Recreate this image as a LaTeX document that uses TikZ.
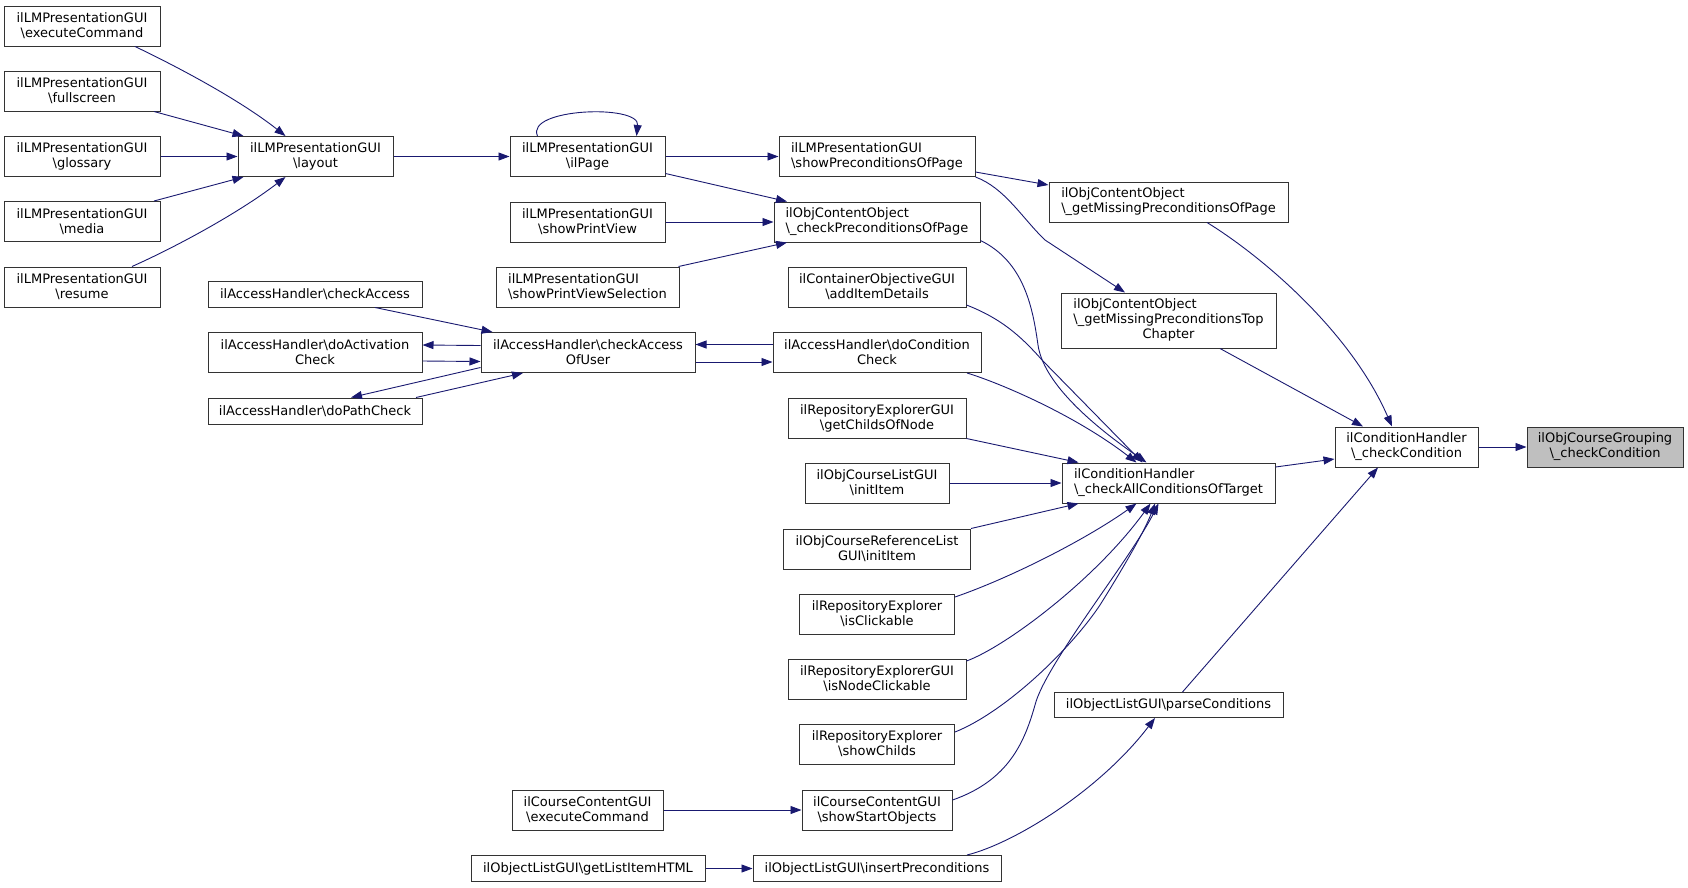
\documentclass[tikz,border=0pt]{standalone}
\usepackage{fontspec}
\setmainfont{DejaVu Sans}
\usetikzlibrary{arrows.meta}
\definecolor{edgeblue}{HTML}{191970}
\definecolor{nodegray}{HTML}{BFBFBF}
\newcommand\bsl{\textbackslash}
\begin{document}
\begin{tikzpicture}[x=1pt,y=-1pt,
  box/.style={draw=black!80, line width=1pt, inner sep=0pt, font=\fontsize{13}{15}\selectfont, align=center, text=black, fill=white},
  lbox/.style={box, align=left},
  e/.style={draw=edgeblue, line width=0.9pt, -{Triangle[length=11pt,width=8pt]}, color=edgeblue}]
\useasboundingbox (0,0) rectangle (1688,887);

% column 1
\node[box, minimum width=156pt, minimum height=40pt] (lmExec) at (82,26) {ilLMPresentationGUI\\\bsl executeCommand};
\node[box, minimum width=156pt, minimum height=40pt] (lmFull) at (82,91) {ilLMPresentationGUI\\\bsl fullscreen};
\node[box, minimum width=156pt, minimum height=40pt] (lmGloss) at (82,156.5) {ilLMPresentationGUI\\\bsl glossary};
\node[box, minimum width=156pt, minimum height=40pt] (lmMedia) at (82,221.5) {ilLMPresentationGUI\\\bsl media};
\node[box, minimum width=156pt, minimum height=40pt] (lmResume) at (82,287) {ilLMPresentationGUI\\\bsl resume};

% column 2
\node[box, minimum width=155pt, minimum height=40pt] (layout) at (315.5,156.5) {ilLMPresentationGUI\\\bsl layout};
\node[box, minimum width=214pt, minimum height=26pt] (checkAccess) at (315,294) {ilAccessHandler\bsl checkAccess};
\node[box, minimum width=214pt, minimum height=40pt] (doActivation) at (315,352) {ilAccessHandler\bsl doActivation\\Check};
\node[box, minimum width=214pt, minimum height=26pt] (doPath) at (315,411) {ilAccessHandler\bsl doPathCheck};

% column 3
\node[box, minimum width=155pt, minimum height=40pt] (ilPage) at (587.5,156.5) {ilLMPresentationGUI\\\bsl ilPage};
\node[box, minimum width=155pt, minimum height=40pt] (showPrintView) at (587.5,222) {ilLMPresentationGUI\\\bsl showPrintView};
\node[lbox, minimum width=183pt, minimum height=40pt] (showPrintViewSel) at (587.5,287) {ilLMPresentationGUI\\\bsl showPrintViewSelection};
\node[box, minimum width=214pt, minimum height=40pt] (checkAccessOfUser) at (588,352.5) {ilAccessHandler\bsl checkAccess\\OfUser};
\node[box, minimum width=151pt, minimum height=40pt] (ccExec) at (587.5,810) {ilCourseContentGUI\\\bsl executeCommand};
\node[box, minimum width=234pt, minimum height=26pt] (getListItem) at (588,868.5) {ilObjectListGUI\bsl getListItemHTML};

% column 4
\node[lbox, minimum width=196pt, minimum height=40pt] (showPrecOfPage) at (877,156.5) {ilLMPresentationGUI\\\bsl showPreconditionsOfPage};
\node[lbox, minimum width=206pt, minimum height=40pt] (checkPrecOfPage) at (877,222) {ilObjContentObject\\\bsl\_checkPreconditionsOfPage};
\node[box, minimum width=178pt, minimum height=40pt] (addItemDetails) at (877,287) {ilContainerObjectiveGUI\\\bsl addItemDetails};
\node[box, minimum width=208pt, minimum height=40pt] (doCondition) at (877,352.5) {ilAccessHandler\bsl doCondition\\Check};
\node[box, minimum width=178pt, minimum height=40pt] (getChilds) at (877,418) {ilRepositoryExplorerGUI\\\bsl getChildsOfNode};
\node[box, minimum width=144pt, minimum height=40pt] (courseListInit) at (877,483) {ilObjCourseListGUI\\\bsl initItem};
\node[box, minimum width=187pt, minimum height=40pt] (courseRefInit) at (877,549) {ilObjCourseReferenceList\\GUI\bsl initItem};
\node[box, minimum width=155pt, minimum height=40pt] (isClickable) at (877,614) {ilRepositoryExplorer\\\bsl isClickable};
\node[box, minimum width=178pt, minimum height=40pt] (isNodeClickable) at (877,679) {ilRepositoryExplorerGUI\\\bsl isNodeClickable};
\node[box, minimum width=155pt, minimum height=40pt] (showChilds) at (877,744) {ilRepositoryExplorer\\\bsl showChilds};
\node[box, minimum width=150pt, minimum height=40pt] (showStart) at (877,810) {ilCourseContentGUI\\\bsl showStartObjects};
\node[box, minimum width=248pt, minimum height=26pt] (insertPrec) at (877,868.5) {ilObjectListGUI\bsl insertPreconditions};

% column 5
\node[lbox, minimum width=239pt, minimum height=40pt] (getMissingPage) at (1168.5,202) {ilObjContentObject\\\bsl\_getMissingPreconditionsOfPage};
\node[box, minimum width=215pt, minimum height=55pt] (topChapter) at (1168.5,320.5) {\begin{tabular}{@{}l@{}}ilObjContentObject\\\bsl\_getMissingPreconditionsTop\\\multicolumn{1}{@{}c@{}}{Chapter}\end{tabular}};
\node[lbox, minimum width=213pt, minimum height=40pt] (checkAll) at (1168.5,483) {ilConditionHandler\\\bsl\_checkAllConditionsOfTarget};
\node[box, minimum width=229pt, minimum height=25pt] (parseCond) at (1168.5,705) {ilObjectListGUI\bsl parseConditions};

% column 6, 7
\node[box, minimum width=143pt, minimum height=40pt] (checkCondition) at (1406.5,447) {ilConditionHandler\\\bsl\_checkCondition};
\node[box, fill=nodegray, minimum width=156pt, minimum height=40pt] (grouping) at (1605,447) {ilObjCourseGrouping\\\bsl\_checkCondition};

% edges into layout
\draw[e] ([xshift=53pt]lmExec.south) .. controls (178,67) and (240,100) .. ([xshift=-30pt]layout.north);
\draw[e] ([xshift=72pt]lmFull.south) -- ([xshift=-72pt]layout.north);
\draw[e] (lmGloss.east) -- (layout.west);
\draw[e] ([xshift=72pt]lmMedia.north) -- ([xshift=-72pt]layout.south);
\draw[e] ([xshift=50pt]lmResume.north) .. controls (178,246) and (240,212) .. ([xshift=-30pt]layout.south);
\draw[e] (layout.east) -- (ilPage.west);

% ilPage
\draw[e] ([xshift=-50pt]ilPage.north) .. controls (525,108) and (640,104) .. ([xshift=49pt]ilPage.north);
\draw[e] (ilPage.east) -- (showPrecOfPage.west);
\draw[e] ([yshift=-17pt]ilPage.east) -- ([xshift=-90pt]checkPrecOfPage.north);
\draw[e] (showPrintView.east) -- (checkPrecOfPage.west);
\draw[e] ([xshift=-1pt]showPrintViewSel.north east) -- ([xshift=-90pt]checkPrecOfPage.south);

% showPreconditionsOfPage
\draw[e] ([yshift=-15.5pt]showPrecOfPage.east) -- ([yshift=17pt]getMissingPage.west);
\draw[e] (showPrecOfPage.south east) .. controls (1005,188) and (1022,218) .. (1045,240) -- ([xshift=-43.5pt]topChapter.north);

% into checkAll from above
\draw[e] ([yshift=2pt]checkPrecOfPage.south east) .. controls (1025,262) and (1033,310) .. (1038,345) .. controls (1043,380) and (1085,420) .. ([xshift=-22pt]checkAll.north);
\draw[e] ([yshift=-18pt]addItemDetails.east) .. controls (1000,318) and (1020,335) .. (1042,360) -- ([xshift=-26pt]checkAll.north);
\draw[e] ([xshift=90pt]doCondition.south) .. controls (1000,383) and (1075,415) .. ([xshift=-32pt]checkAll.north);
\draw[e] (getChilds.south east) -- ([xshift=-90pt]checkAll.north);
\draw[e] (courseListInit.east) -- (checkAll.west);
\draw[e] (courseRefInit.north east) -- ([xshift=-90pt]checkAll.south);
\draw[e] ([yshift=17pt]isClickable.east) .. controls (1010,578) and (1085,540) .. ([xshift=-32pt]checkAll.south);
\draw[e] ([yshift=18pt]isNodeClickable.east) .. controls (1005,647) and (1095,580) .. ([xshift=-18pt]checkAll.south);
\draw[e] ([yshift=12pt]showChilds.east) .. controls (1005,712) and (1070,650) .. (1100,605) .. controls (1125,565) and (1145,530) .. ([xshift=-13.5pt]checkAll.south);
\draw[e] ([yshift=10pt]showStart.east) .. controls (1010,780) and (1025,740) .. (1035,705) .. controls (1045,665) and (1130,560) .. ([xshift=-10pt]checkAll.south);

% bottom rows
\draw[e] (ccExec.east) -- (showStart.west);
\draw[e] (getListItem.east) -- (insertPrec.west);
\draw[e] ([xshift=90pt]insertPrec.north) .. controls (1015,843) and (1100,790) .. ([xshift=-13.5pt]parseCond.south);

% into checkCondition
\draw[e] ([xshift=14pt]parseCond.north) -- ([xshift=-28.5pt]checkCondition.south);
\draw[e] ([yshift=16pt]checkAll.east) -- ([yshift=-12pt]checkCondition.west);
\draw[e] ([xshift=38.5pt]getMissingPage.south) .. controls (1260,255) and (1350,330) .. ([xshift=-14.5pt]checkCondition.north);
\draw[e] ([xshift=51.5pt]topChapter.south) -- ([xshift=-43.5pt]checkCondition.north);
\draw[e] (checkCondition.east) -- (grouping.west);

% access handler cluster
\draw[e] ([xshift=60pt]checkAccess.south) -- ([xshift=-95.5pt]checkAccessOfUser.north);
\draw[e] ([yshift=7pt]checkAccessOfUser.west) -- ([yshift=7pt]doActivation.east);
\draw[e] ([yshift=-9pt]doActivation.east) -- ([yshift=-9pt]checkAccessOfUser.west);
\draw[e] ([yshift=-15pt]checkAccessOfUser.west) -- ([xshift=36pt]doPath.north);
\draw[e] ([xshift=101pt]doPath.north) -- ([xshift=-65pt]checkAccessOfUser.south);
\draw[e] ([yshift=8pt]doCondition.west) -- ([yshift=8pt]checkAccessOfUser.east);
\draw[e] ([yshift=-9.5pt]checkAccessOfUser.east) -- ([yshift=-9.5pt]doCondition.west);
\end{tikzpicture}
\end{document}
